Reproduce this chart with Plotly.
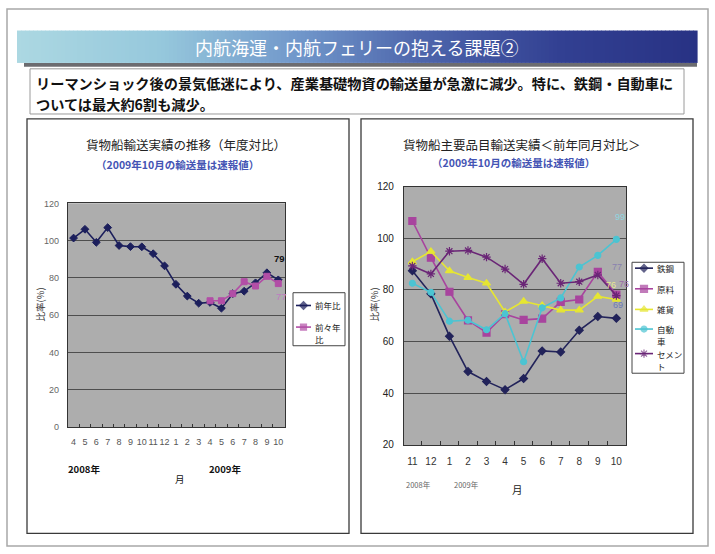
import plotly.graph_objects as go

W, H = 715, 554
FONT = "Noto Sans CJK JP"

# ---------------- data ----------------
left_months = ["4", "5", "6", "7", "8", "9", "10", "11", "12", "1", "2", "3",
               "4", "5", "6", "7", "8", "9", "10"]
prev_year = [101.4, 106.1, 99.1, 107.0, 97.4, 96.8, 96.7, 93.0, 86.5, 76.6,
             70.3, 66.5, 66.9, 63.8, 71.6, 72.9, 77.4, 82.8, 79.0]
two_years = [None] * 12 + [67.8, 67.8, 71.6, 78.0, 75.7, 80.9, 77.0]

right_months = ["11", "12", "1", "2", "3", "4", "5", "6", "7", "8", "9", "10"]
tekko = [87.4, 78.5, 62.1, 48.4, 44.6, 41.4, 45.7, 56.4, 56.0, 64.4, 69.7, 69.0]
genryo = [106.7, 92.5, 79.3, 68.2, 63.5, 70.6, 68.4, 68.9, 75.4, 76.3, 87.0, 78.2]
zakka = [90.9, 94.9, 87.4, 84.8, 82.6, 71.5, 75.6, 74.0, 72.2, 72.2, 77.5, 76.3]
jidosha = [82.6, 79.1, 67.9, 68.3, 64.6, 70.8, 52.2, 73.1, 76.9, 88.9, 93.4, 99.6]
cement = [89.3, 86.2, 95.0, 95.3, 92.7, 88.1, 82.2, 92.1, 82.6, 83.2, 85.8, 77.8]

# ---------------- helpers ----------------
def px(x):
    return x / W

def py(y):
    return 1 - y / H

fig = go.Figure()

# ---------------- left chart traces ----------------
xl = list(range(len(left_months)))
left_series = [
    (["前年比"], prev_year, "#1c1f5c", dict(symbol="diamond", size=6)),
    (["前々年", "比"], two_years, "#b24ea6", dict(symbol="square", size=6)),
]
for name, vals, col, mk in left_series:
    mk = dict(mk, color=col, line=dict(color=col, width=1))
    fig.add_trace(go.Scatter(x=xl, y=vals, name="".join(name), mode="lines+markers",
                             line=dict(color=col, width=1.6), marker=mk,
                             xaxis="x", yaxis="y", showlegend=False))

# ---------------- right chart traces ----------------
xr = list(range(len(right_months)))
right_series = [
    (["鉄鋼"], tekko, "#22235a", dict(symbol="diamond", size=6)),
    (["原料"], genryo, "#a8449e", dict(symbol="square", size=7)),
    (["雑貨"], zakka, "#e6e632", dict(symbol="triangle-up", size=7)),
    (["自動", "車"], jidosha, "#4cc4d2", dict(symbol="circle", size=6)),
    (["セメン", "ト"], cement, "#6a2576", dict(symbol="asterisk-open", size=7)),
]
for name, vals, col, mk in right_series:
    mk = dict(mk, color=col, line=dict(color=col, width=1.2))
    fig.add_trace(go.Scatter(x=xr, y=vals, name="".join(name), mode="lines+markers",
                             line=dict(color=col, width=1.6), marker=mk,
                             xaxis="x2", yaxis="y2", showlegend=False))

# ---------------- decorative shapes ----------------
shapes = []
PLOT_BG = "#adadad"
GRID = "#4e4e4e"
for xa, ya in (("x", "y"), ("x2", "y2")):
    shapes.append(dict(type="rect", xref=xa + " domain", yref=ya + " domain",
                       x0=0, x1=1, y0=0, y1=1, fillcolor=PLOT_BG,
                       line=dict(width=0), layer="below"))
shapes.append(dict(type="rect", xref="paper", yref="paper",
                   x0=px(7), x1=px(708), y0=py(551), y1=py(4),
                   line=dict(color="#a8a8a8", width=1.5), layer="below"))
stops = [(17, (172, 216, 226)), (160, (150, 200, 220)), (300, (112, 150, 202)),
         (420, (78, 102, 172)), (560, (50, 64, 146)), (697, (40, 50, 132))]

def grad(x):
    for (xa, ca), (xb, cb) in zip(stops[:-1], stops[1:]):
        if xa <= x <= xb:
            t = (x - xa) / (xb - xa)
            return "rgb(%d,%d,%d)" % tuple(round(a + (b - a) * t) for a, b in zip(ca, cb))
    return "rgb(%d,%d,%d)" % stops[-1][1]

step = 4
xs = 17
while xs < 697:
    xe = min(xs + step, 697)
    shapes.append(dict(type="rect", xref="paper", yref="paper",
                       x0=px(xs), x1=px(xe + 0.6), y0=py(59), y1=py(26),
                       fillcolor=grad((xs + xe) / 2), line=dict(width=0), layer="below"))
    xs = xe
shapes.append(dict(type="rect", xref="paper", yref="paper",
                   x0=px(24), x1=px(697), y0=py(63), y1=py(59),
                   fillcolor="#6c6c70", line=dict(width=0), layer="below"))
shapes.append(dict(type="rect", xref="paper", yref="paper",
                   x0=px(30), x1=px(684), y0=py(111), y1=py(65),
                   line=dict(color="#9a9a9a", width=1), layer="below"))
shapes.append(dict(type="rect", xref="paper", yref="paper",
                   x0=px(27), x1=px(349), y0=py(538), y1=py(116),
                   line=dict(color="#3a3a3a", width=1.3), layer="below"))
shapes.append(dict(type="rect", xref="paper", yref="paper",
                   x0=px(361), x1=px(693), y0=py(538), y1=py(116),
                   line=dict(color="#3a3a3a", width=1.3), layer="below"))

# ---------------- annotations ----------------
ann = []

def txt(x, y, s, size=10, color="#222", anchor="center", bold=False, angle=0,
        yanchor="middle", family=FONT):
    if bold:
        s = "<b>" + s + "</b>"
    ann.append(dict(xref="paper", yref="paper", x=px(x), y=py(y), text=s,
                    showarrow=False, xanchor=anchor, yanchor=yanchor, borderpad=0,
                    textangle=angle, font=dict(family=family, size=size, color=color)))

txt(356, 43, "内航海運・内航フェリーの抱える課題②", size=18, color="white")
txt(35, 79, "リーマンショック後の景気低迷により、産業基礎物資の輸送量が急激に減少。特に、鉄鋼・自動車に",
    size=14.2, color="#111", anchor="left", bold=True)
txt(35, 101, "ついては最大約6割も減少。", size=14.2, color="#111", anchor="left", bold=True)

txt(186, 142, "貨物船輸送実績の推移（年度対比）", size=12.5, color="#222")
txt(177, 162, "（2009年10月の輸送量は速報値）", size=10.5, color="#4454b4", bold=True)
txt(40, 305, "比率(%)", size=9.5, color="#333", angle=-90)
txt(84, 473, "2008年", size=9.5, color="#111", bold=True)
txt(225, 473, "2009年", size=9.5, color="#111", bold=True)
txt(180, 483, "月", size=9.5, color="#111")

txt(522, 142, "貨物船主要品目輸送実績＜前年同月対比＞", size=12.5, color="#222")
txt(513, 160, "（2009年10月の輸送量は速報値）", size=10.5, color="#4454b4", bold=True)
txt(374, 305, "比率(%)", size=9.5, color="#333", angle=-90)
txt(418, 488, "2008年", size=7.5, color="#666")
txt(466, 488, "2009年", size=7.5, color="#666")
txt(517, 493, "月", size=10.5, color="#222")

def dlabel(xref, yref, x, y, s, color, dx, dy, size=9.5, bold=False):
    if bold:
        s = "<b>" + s + "</b>"
    ann.append(dict(xref=xref, yref=yref, x=x, y=y, text=s, showarrow=False,
                    xshift=dx, yshift=dy, font=dict(family="Arial", size=size, color=color)))

dlabel("x", "y", xl[-1], prev_year[-1], "79", "#111", 1, 21, bold=True)
dlabel("x", "y", xl[-1], two_years[-1], "77", "#c07ac0", 3, -13)
dlabel("x2", "y2", xr[-1], jidosha[-1], "99", "#8fd6e0", 4, 22, size=9)
dlabel("x2", "y2", xr[-1], cement[-1], "77", "#8880b0", 1, 29, size=9)
dlabel("x2", "y2", xr[-1], zakka[-1], "76", "#e8e890", -5, 15, size=9)
dlabel("x2", "y2", xr[-1], genryo[-1], "76", "#9a6aa8", 8, 11, size=9)
dlabel("x2", "y2", xr[-1], tekko[-1], "69", "#6a7ab8", 2, 13, size=9)

# ---------------- hand-laid legends ----------------
LINE_GAP = 12.5

def legend_box(x0, y0, x1, y1, series, rows_y, lx0, lx1, fsize=8.5):
    shapes.append(dict(type="rect", xref="paper", yref="paper",
                       x0=px(x0), x1=px(x1), y0=py(y1), y1=py(y0),
                       fillcolor="white", line=dict(color="#444", width=1), layer="below"))
    for (name, vals, col, mk), ry in zip(series, rows_y):
        m = dict(mk, color=col, line=dict(color=col, width=1.2))
        m["size"] = [0, mk["size"], 0]
        fig.add_trace(go.Scatter(x=[lx0, (lx0 + lx1) / 2, lx1], y=[ry, ry, ry],
                                 mode="lines+markers", line=dict(color=col, width=1.6),
                                 marker=m, xaxis="x3", yaxis="y3",
                                 showlegend=False, hoverinfo="skip"))
        for k, part in enumerate(name):
            txt(lx1 + 3, ry + k * LINE_GAP, part, size=fsize, color="#222", anchor="left")

legend_box(293, 293, 345, 347, left_series, [306, 328], 296, 311)
legend_box(632, 262, 684, 375, right_series, [268, 289, 310, 330, 355], 635, 653)

fig.update_layout(
    width=W, height=H, margin=dict(l=0, r=0, t=0, b=0),
    paper_bgcolor="white", plot_bgcolor="rgba(0,0,0,0)",
    font=dict(family=FONT), showlegend=False,
    shapes=shapes, annotations=ann,
    xaxis=dict(domain=[px(68), px(285)], range=[-0.49, 18.59],
               tickmode="array", tickvals=xl, ticktext=left_months, tickangle=0,
               ticks="", showgrid=False, zeroline=False, ticklabelstandoff=6,
               showline=True, linecolor="#333", linewidth=1.2, mirror=True,
               tickfont=dict(family="Arial", size=9, color="#555"),
               minor=dict(tickmode="array", tickvals=[i + 0.5 for i in xl[:-1]],
                          ticks="inside", ticklen=3, tickcolor="#333", showgrid=False),
               anchor="y", fixedrange=True),
    yaxis=dict(domain=[py(430), py(202)], range=[0, 120], dtick=20,
               showgrid=True, gridcolor=GRID, gridwidth=1, zeroline=False,
               showline=True, linecolor="#333", linewidth=1.2, mirror=True,
               ticks="", ticklabelstandoff=6,
               tickfont=dict(family="Arial", size=9, color="#666"),
               anchor="x", fixedrange=True),
    xaxis2=dict(domain=[px(404), px(626)], range=[-0.45, 11.52],
                tickmode="array", tickvals=xr, ticktext=right_months, tickangle=0,
                ticks="", showgrid=False, zeroline=False, ticklabelstandoff=7,
                showline=True, linecolor="#333", linewidth=1.2, mirror=True,
                tickfont=dict(family="Arial", size=10, color="#333"),
                minor=dict(tickmode="array", tickvals=[i + 0.5 for i in xr[:-1]],
                           ticks="inside", ticklen=4, tickcolor="#333", showgrid=False),
                anchor="y2", fixedrange=True),
    yaxis2=dict(domain=[py(448), py(185)], range=[20, 120], dtick=20,
                showgrid=True, gridcolor=GRID, gridwidth=1, zeroline=False,
                showline=True, linecolor="#333", linewidth=1.2, mirror=True,
                ticks="", ticklabelstandoff=7,
                tickfont=dict(family="Arial", size=10, color="#222"),
                anchor="x2", fixedrange=True),
    xaxis3=dict(domain=[0, 1], range=[0, W], visible=False, fixedrange=True, anchor="y3"),
    yaxis3=dict(domain=[0, 1], range=[H, 0], visible=False, fixedrange=True, anchor="x3"),
)

fig.write_html("out.html")
